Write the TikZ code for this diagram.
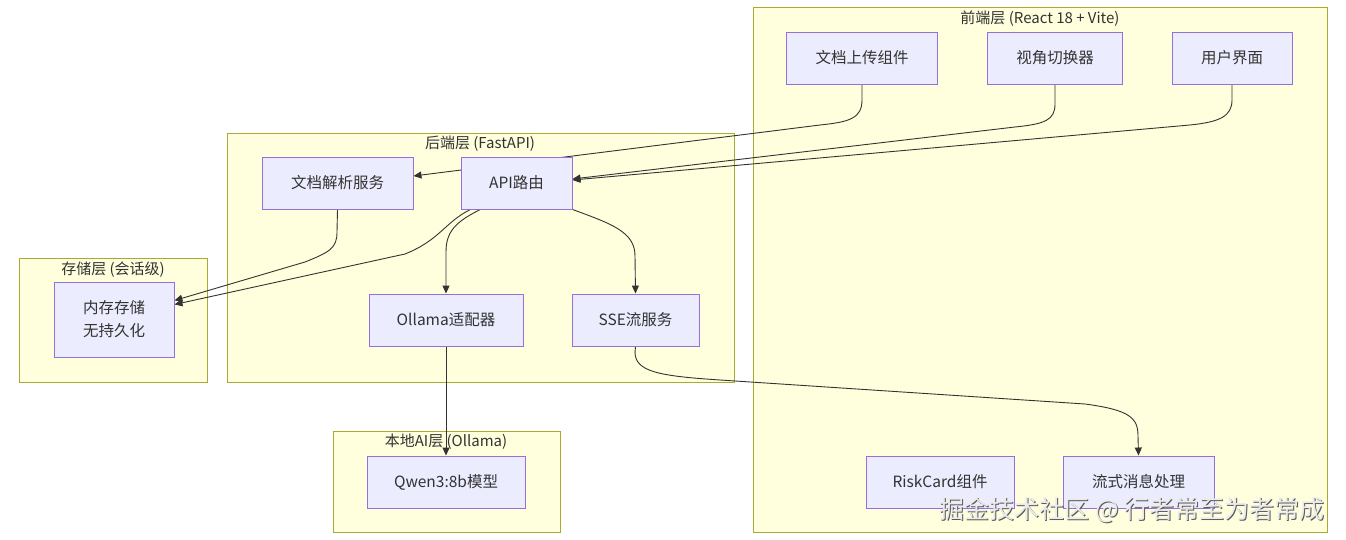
\documentclass[tikz,border=0pt]{standalone}
\usepackage{fontspec}
\setmainfont{Noto Sans CJK SC}
\usepackage{tikz}
\usetikzlibrary{arrows.meta}
\definecolor{nodefill}{HTML}{ECECFF}
\definecolor{nodeline}{HTML}{9370DB}
\definecolor{groupfill}{HTML}{FFFFDE}
\definecolor{groupline}{HTML}{AAAA33}
\definecolor{edgeline}{HTML}{333333}
\pgfdeclarelayer{back}
\pgfdeclarelayer{mid}
\pgfsetlayers{back,mid,main}
\tikzstyle{block} = [rectangle, draw=nodeline, fill=nodefill, line width=0.9pt,
                 minimum height=52pt, inner sep=0pt, align=center,
                 font=\fontsize{15.5}{23}\selectfont, text=edgeline]
\tikzstyle{group} = [rectangle, draw=groupline, fill=groupfill, line width=0.9pt,
                 inner sep=0pt]
\tikzstyle{grouptitle} = [inner sep=0pt, font=\fontsize{15}{18}\selectfont, text=edgeline]
\tikzstyle{branch} = [draw=edgeline, line width=0.9pt, -{Triangle[length=8pt,width=7pt]}]

\begin{document}
\begin{tikzpicture}[x=1pt, y=-1pt]

\useasboundingbox (0,0) rectangle (1346,540);

    	%groups
\begin{pgfonlayer}{back}
\fill [white] (0,0) rectangle (1346,540);
\node [group, minimum width=574pt, minimum height=525pt] at (1040,269.5) (front) {};
\node [group, minimum width=507pt, minimum height=249pt] at (480.5,257.5) (back) {};
\node [group, minimum width=188pt, minimum height=124pt] at (113,320) (store) {};
\node [group, minimum width=227pt, minimum height=101pt] at (446.5,481.5) (local) {};
\end{pgfonlayer}

\node [grouptitle] at (1040,19) (front title) {前端层 (React 18 + Vite)};
\node [grouptitle] at (480,144) (back title) {后端层 (FastAPI)};
\node [grouptitle] at (113,270) (store title) {存储层 (会话级)};
\node [grouptitle] at (446,442) (local title) {本地AI层 (Ollama)};

\node [block, minimum width=151pt] at (862,58) (upload) {文档上传组件};
\node [block, minimum width=135pt] at (1055,58) (view) {视角切换器};
\node [block, minimum width=120pt] at (1232,58) (ui) {用户界面};
\node [block, minimum width=148pt] at (940,482) (risk) {RiskCard组件};
\node [block, minimum width=151pt] at (1138.5,482) (stream) {流式消息处理};

\node [block, minimum width=151pt] at (337.5,183) (parse) {文档解析服务};
\node [block, minimum width=111pt] at (516.5,183) (api) {API路由};
\node [block, minimum width=154pt] at (446,320) (ollama) {Ollama适配器};
\node [block, minimum width=127pt] at (635.5,320) (sse) {SSE流服务};

\node [block, minimum width=120pt, minimum height=75pt] at (114,319.5) (mem) {内存存储\\无持久化};
\node [block, minimum width=158pt] at (446,482) (qwen) {Qwen3:8b模型};

\begin{pgfonlayer}{mid}
\path [branch] (upload.south) -- (862,100) .. controls (862,118) and (850,122) .. (820,125)
	-- ([yshift=7pt]parse.east);
\path [branch] (view.south) -- (1055,104) .. controls (1055,120) and (1045,124) .. (1015,127)
	-- ([yshift=4pt]api.east);
\path [branch] (ui.south) -- (1232,100) .. controls (1232,116) and (1220,122) .. (1190,125)
	-- ([yshift=3pt]api.east);
\path [branch] (parse.south) -- (337,232) .. controls (337,248) and (330,252) .. (305,262)
	-- ([yshift=19pt]mem.east);
\path [branch] ([xshift=-46pt]api.south) .. controls (445,222) and (440,240) .. (405,254)
	-- ([yshift=15pt]mem.east);
\path [branch] ([xshift=-36pt]api.south) .. controls (455,222) and (446,232) .. (446,252)
	-- (ollama.north);
\path [branch] (api.south east) .. controls (612,224) and (635,232) .. (635,256)
	-- (sse.north);
\path [branch] (ollama.south) -- (qwen.north);
\path [branch] (sse.south) -- (635,352) .. controls (635,372) and (660,376) .. (720,380)
	-- (1085,404) .. controls (1130,410) and (1138,418) .. (1138,436) -- (stream.north);
\end{pgfonlayer}

    	%watermark
\node [font=\fontsize{25}{28}\selectfont, text=black!65, anchor=east] at (1329.2,511) (mark shadow) {掘金技术社区 @ 行者常至为者常成};
\node [font=\fontsize{25}{28}\selectfont, text=black!8, anchor=east] at (1328,510) (mark) {掘金技术社区 @ 行者常至为者常成};

\end{tikzpicture}
\end{document}
